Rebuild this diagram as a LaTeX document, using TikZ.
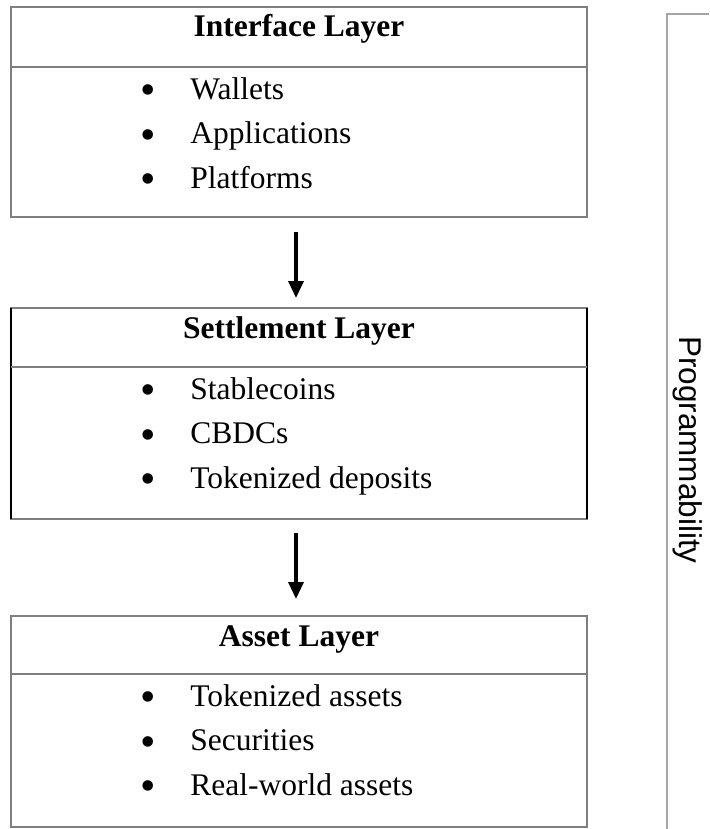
\documentclass[tikz,border=0pt]{standalone}
\usepackage{fontspec}
\setmainfont{Liberation Serif}
\setsansfont{Liberation Sans}
\usepackage{tikz}
\usetikzlibrary{arrows.meta,positioning,calc}
\definecolor{boxgray}{HTML}{7F7F7F}
\definecolor{railgray}{HTML}{A5A5A5}

\begin{document}
\begin{tikzpicture}[
  x=0.5pt, y=-0.5pt,
  layer/.style={draw=boxgray, line width=0.85pt, minimum width=288pt, outer sep=0pt, inner sep=0pt},
  divider/.style={draw=boxgray, line width=0.85pt},
  ltitle/.style={font=\fontsize{15.75}{18}\selectfont\bfseries, anchor=base, inner sep=0pt},
  litem/.style={font=\fontsize{15.75}{18}\selectfont, anchor=base west, inner sep=0pt},
  bullet/.style={font=\fontsize{22}{24}\selectfont, anchor=base, inner sep=0pt},
  flow/.style={-{Triangle[length=8.5pt,width=7.5pt]}, line width=1.65pt},
  rail/.style={draw=railgray, line width=0.75pt},
  railtext/.style={font=\sffamily\fontsize{15.75}{18}\selectfont, rotate=-90, inner sep=0pt}
]
  \useasboundingbox (0,0) rectangle (709,829);
  % layer boxes
  \node[layer, minimum height=105pt] (iface) at (299,112) {};
  \node[layer, minimum height=105.5pt] (settle) at (299,413.5) {};
  \node[layer, minimum height=105.5pt] (asset) at (299,721.5) {};
  \draw[line width=0.85pt, black] (settle.north west) -- (settle.south west)
    (settle.north east) -- (settle.south east);
  \foreach \lay/\title/\base/\div in {
    iface/Interface Layer/37/67,
    settle/Settlement Layer/338/367,
    asset/Asset Layer/646/674
  } {
    \node[ltitle] (\lay-t) at (299,\base) {\title};
    \draw[divider] (\lay.west |- 0,\div) -- (\lay.east |- 0,\div);
  }
  % bullet items
  \foreach \name/\txt/\y in {
    iface-1/Wallets/99, iface-2/Applications/143.5, iface-3/Platforms/188,
    settle-1/Stablecoins/399, settle-2/CBDCs/443.5, settle-3/Tokenized deposits/488,
    asset-1/Tokenized assets/706, asset-2/Securities/750.5, asset-3/Real-world assets/795
  } {
    \node[bullet] (\name-b) at (148,\y+5.5) {•};
    \node[litem] (\name) at (190,\y) {\txt};
  }
  % flow between layers
  \draw[flow, shorten <=7.5pt, shorten >=5pt] ([xshift=-1.5pt]iface.south) -- ([xshift=-1.5pt]settle.north);
  \draw[flow, shorten <=7pt, shorten >=8.5pt] ([xshift=-1.5pt]settle.south) -- ([xshift=-1.5pt]asset.north);
  % programmability rail
  \draw[rail] (667,829) -- (667,14) -- (709,14);
  \node[railtext] (prog) at (688,450) {Programmability};
\end{tikzpicture}
\end{document}
